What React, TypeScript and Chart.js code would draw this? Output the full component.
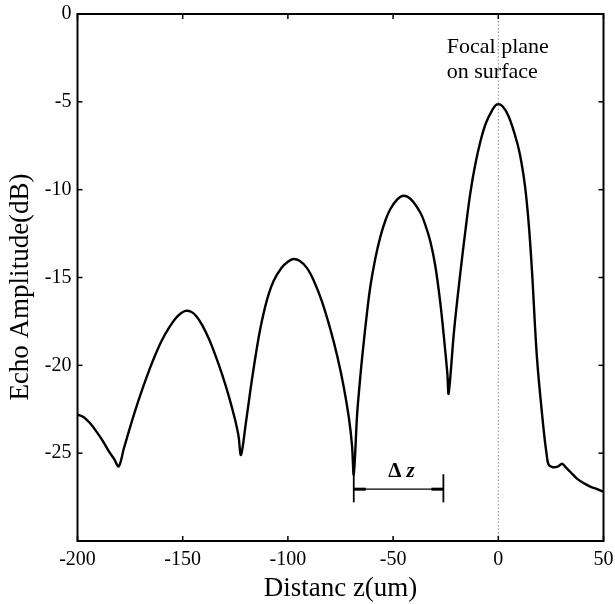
import React, { useEffect, useRef } from 'react';
import { Chart, registerables } from 'chart.js';

Chart.register(...registerables);

// Distance z (um)
const zValues = [
  -200, -197, -194, -191.4, -188, -185.3, -182.5, -180.4, -178, -175.7,
  -172.5, -169.3, -166, -163, -160, -156.7, -153.5, -151, -148.7, -146,
  -143.5, -140.8, -137.5, -134.4, -131.2, -128.1, -125.3, -123.5, -122.3, -120,
  -117.8, -115.4, -113.1, -110, -106.8, -103, -100, -97.3, -94.5, -91,
  -87.8, -84, -79.8, -76.5, -73.5, -71, -69.5, -68.7, -67.1, -66,
  -64.5, -62.4, -60.8, -58.5, -56.1, -53.5, -51.3, -48, -45, -41.5,
  -37.1, -34.7, -32.3, -30, -27.6, -25.6, -24.2, -23.6, -21, -18.1,
  -15.5, -13.3, -11, -8.6, -6, -3, -0.6, 2, 5, 8.9,
  11, 12.8, 14.5, 16, 18.4, 21.5, 23, 23.9, 26, 28.5,
  30.3, 32, 34.5, 37.4, 40.5, 43.7, 47, 50,
];

// Echo amplitude (dB)
const echoDb = [
  -22.8, -22.95, -23.3, -23.7, -24.3, -24.85, -25.35, -25.75, -24.75, -23.8,
  -22.55, -21.4, -20.3, -19.4, -18.6, -17.9, -17.35, -17.05, -16.9, -16.95,
  -17.2, -17.7, -18.5, -19.45, -20.55, -21.75, -23.0, -24.0, -25.1, -23.3,
  -21.4, -19.5, -17.9, -16.3, -15.2, -14.45, -14.1, -13.95, -14.05, -14.45,
  -15.15, -16.3, -17.95, -19.5, -21.2, -23.0, -24.6, -26.2, -22.8, -21.2,
  -19.3, -17.0, -15.5, -13.95, -12.7, -11.7, -11.1, -10.55, -10.35, -10.55,
  -11.3, -12.0, -12.95, -14.3, -16.4, -18.7, -20.5, -21.6, -18.0, -14.8,
  -12.2, -10.2, -8.6, -7.3, -6.25, -5.5, -5.15, -5.25, -5.85, -7.3,
  -8.45, -9.9, -12.0, -14.6, -19.6, -23.6, -25.1, -25.65, -25.8, -25.75,
  -25.6, -25.8, -26.1, -26.45, -26.7, -26.9, -27.05, -27.2,
];

const xTicks = [-200, -150, -100, -50, 0, 50];
const yTicks = [0, -5, -10, -15, -20, -25, -30];
const xRange = [-200, 50];
const yRange = [-30, 0];

const focalPlaneX = 0;
const focalLabel = ['Focal plane', 'on surface'];
const focalLabelX = -24.5;
const focalLabelY = [-2.2, -3.64];

const deltaZFrom = -68.7;
const deltaZTo = -26.1;
const deltaZLevel = -27.05;
const deltaZTickTop = -26.2;
const deltaZTickBottom = -27.8;
const deltaZLabelX = -46;
const deltaZLabelY = -26.35;

const xTitle = 'Distanc z(um)';
const yTitle = 'Echo Amplitude(dB)';

const SERIF = '"Liberation Serif", "Times New Roman", serif';

const noPad = (s: any) => {
  s.paddingTop = 0;
  s.paddingBottom = 0;
  s.paddingLeft = 0;
  s.paddingRight = 0;
};

const decorPlugin = {
  id: 'decor',
  afterDraw(chart: any) {
    const { ctx, chartArea: a } = chart;
    const xs = chart.scales.x;
    const ys = chart.scales.y;
    ctx.save();
    ctx.strokeStyle = '#000';
    ctx.fillStyle = '#000';
    ctx.lineWidth = 2;
    ctx.strokeRect(a.left, a.top, a.right - a.left, a.bottom - a.top);

    const seg = (x1: number, y1: number, x2: number, y2: number) => {
      ctx.beginPath();
      ctx.moveTo(x1, y1);
      ctx.lineTo(x2, y2);
      ctx.stroke();
    };

    ctx.lineWidth = 1.5;
    xTicks.forEach((v) => {
      const p = xs.getPixelForValue(v);
      seg(p, a.bottom, p, a.bottom - 5);
      seg(p, a.top, p, a.top + 5);
    });
    yTicks.forEach((v) => {
      const p = ys.getPixelForValue(v);
      seg(a.left, p, a.left + 5, p);
      seg(a.right, p, a.right - 5, p);
    });

    // Delta z annotation
    const dx1 = xs.getPixelForValue(deltaZFrom);
    const dx2 = xs.getPixelForValue(deltaZTo);
    const dy = ys.getPixelForValue(deltaZLevel);
    ctx.lineWidth = 1.2;
    seg(dx1, dy, dx2, dy);
    ctx.lineWidth = 3;
    seg(dx1, dy, dx1 + 12, dy);
    seg(dx2 - 12, dy, dx2, dy);
    ctx.lineWidth = 1.8;
    const t1 = ys.getPixelForValue(deltaZTickTop);
    const t2 = ys.getPixelForValue(deltaZTickBottom);
    seg(dx1, t1, dx1, t2);
    seg(dx2, t1, dx2, t2);

    const lx = xs.getPixelForValue(deltaZLabelX);
    const ly = ys.getPixelForValue(deltaZLabelY);
    ctx.textBaseline = 'alphabetic';
    ctx.textAlign = 'left';
    ctx.font = 'bold 21px ' + SERIF;
    const wD = ctx.measureText('\u0394').width;
    ctx.font = 'bold italic 21px ' + SERIF;
    const wz = ctx.measureText('z').width;
    const gap = 5;
    const total = wD + gap + wz;
    ctx.font = 'bold 21px ' + SERIF;
    ctx.fillText('\u0394', lx - total / 2, ly);
    ctx.font = 'bold italic 21px ' + SERIF;
    ctx.fillText('z', lx - total / 2 + wD + gap, ly);

    // Focal plane label
    ctx.font = '22px ' + SERIF;
    const fx = xs.getPixelForValue(focalLabelX);
    focalLabel.forEach((t, i) => {
      ctx.fillText(t, fx, ys.getPixelForValue(focalLabelY[i]));
    });

    // Axis titles
    ctx.font = '27px ' + SERIF;
    ctx.textAlign = 'center';
    ctx.fillText(xTitle, (a.left + a.right) / 2, 596);
    ctx.save();
    ctx.translate(28, 287);
    ctx.rotate(-Math.PI / 2);
    ctx.font = '27px ' + SERIF;
    ctx.fillText(yTitle, 0, 0);
    ctx.restore();

    ctx.restore();
  },
};

export default function App() {
  const ref = useRef<HTMLCanvasElement | null>(null);
  useEffect(() => {
    document.body.style.margin = '0';
    if (!ref.current) return;
    const chart = new Chart(ref.current, {
      type: 'line',
      data: {
        datasets: [
          {
            data: zValues.map((x, i) => ({ x, y: echoDb[i] })),
            borderColor: '#000',
            borderWidth: 2.4,
            pointRadius: 0,
            fill: false,
            tension: 0.35,
          },
          {
            data: [
              { x: focalPlaneX, y: yRange[1] },
              { x: focalPlaneX, y: yRange[0] },
            ],
            borderColor: '#8a8a8a',
            borderWidth: 1,
            borderDash: [1.5, 2],
            pointRadius: 0,
            fill: false,
          },
        ],
      },
      options: {
        animation: false,
        responsive: false,
        devicePixelRatio: 1,
        parsing: false,
        layout: { padding: { top: 14, right: 11.5, left: 0, bottom: 0 } },
        plugins: { legend: { display: false }, tooltip: { enabled: false } },
        scales: {
          x: {
            type: 'linear',
            min: xRange[0],
            max: xRange[1],
            afterBuildTicks: (s: any) => {
              s.ticks = xTicks.map((v) => ({ value: v }));
            },
            afterFit: (s: any) => {
              s.height = 63;
              noPad(s);
            },
            grid: { display: false, drawTicks: false },
            border: { display: false },
            ticks: {
              color: '#000',
              padding: 7,
              font: { family: SERIF, size: 20 },
            },
          },
          y: {
            type: 'linear',
            min: yRange[0],
            max: yRange[1],
            afterBuildTicks: (s: any) => {
              s.ticks = yTicks.map((v) => ({ value: v }));
            },
            afterFit: (s: any) => {
              s.width = 77.5;
              noPad(s);
            },
            grid: { display: false, drawTicks: false },
            border: { display: false },
            ticks: {
              color: '#000',
              padding: 6,
              font: { family: SERIF, size: 20 },
              callback: (v: any) => (v === -30 ? '' : String(v)),
            },
          },
        },
      },
      plugins: [decorPlugin],
    });
    return () => chart.destroy();
  }, []);
  return (
    <div style={{ width: 615, height: 604, background: '#fff' }}>
      <canvas ref={ref} width={615} height={604} />
    </div>
  );
}
